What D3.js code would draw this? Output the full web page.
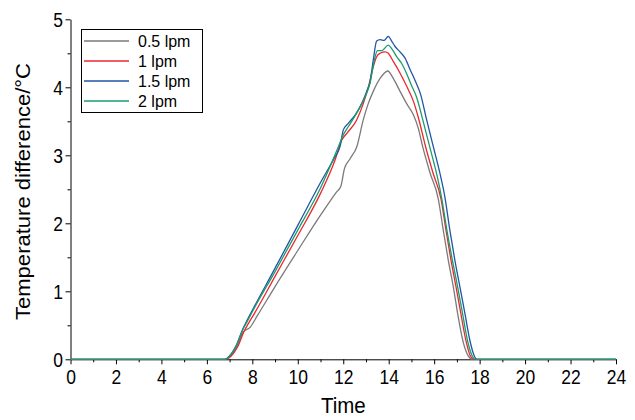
<!DOCTYPE html>
<html>
<head>
<meta charset="utf-8">
<script src="https://cdn.jsdelivr.net/npm/d3@7"></script>
<style>
  html, body { margin: 0; padding: 0; background: #fff; }
  svg { display: block; font-family: "Liberation Sans", Arial, sans-serif; }
</style>
</head>
<body>
<svg id="chart" width="635" height="420"></svg>
<script>
// Flow-rate series: time (h) and temperature difference (°C)
const seriesNames = ["0.5 lpm", "1 lpm", "1.5 lpm", "2 lpm"];
const seriesColors = ["#7a7a7a", "#e8282e", "#2155a6", "#1b9c6c"];

const timeGrey = [0, 6.8, 7.0, 7.3, 7.6, 7.9, 8.2, 9, 10, 11, 11.7, 11.9, 12.05, 12.3, 12.6, 12.88, 13.1, 13.32, 13.62, 13.96, 14.2, 14.5, 14.79, 15.08, 15.3, 15.5, 15.82, 16.18, 16.4, 16.62, 16.84, 17.06, 17.28, 17.5, 17.68, 24];
const valGrey  = [0, 0, 0.04, 0.18, 0.4, 0.47, 0.63, 1.07, 1.6, 2.12, 2.46, 2.55, 2.8, 2.95, 3.13, 3.52, 3.76, 3.94, 4.13, 4.24, 4.13, 3.94, 3.76, 3.6, 3.4, 3.12, 2.74, 2.36, 1.9, 1.46, 1.07, 0.62, 0.25, 0.05, 0, 0];

const timeRed = [0, 6.85, 7.05, 7.35, 7.65, 7.85, 8.1, 9, 10, 11, 11.64, 11.93, 12.15, 12.59, 12.88, 13.1, 13.32, 13.47, 13.62, 13.84, 13.98, 14.2, 14.43, 14.65, 14.87, 15.08, 15.3, 15.62, 15.95, 16.3, 16.52, 16.74, 16.96, 17.18, 17.4, 17.58, 17.75, 24];
const valRed  = [0, 0, 0.04, 0.18, 0.42, 0.54, 0.68, 1.22, 1.82, 2.44, 2.93, 3.22, 3.32, 3.52, 3.76, 4.0, 4.3, 4.45, 4.5, 4.52, 4.5, 4.38, 4.25, 4.11, 3.96, 3.8, 3.56, 3.13, 2.74, 2.36, 1.9, 1.46, 1.07, 0.66, 0.27, 0.06, 0, 0];

const timeBlue = [0, 6.8, 7.0, 7.3, 7.6, 7.78, 8.0, 9, 10, 11, 11.64, 11.86, 12.0, 12.22, 12.52, 12.81, 13.03, 13.18, 13.32, 13.47, 13.62, 13.8, 13.98, 14.13, 14.28, 14.5, 14.72, 14.93, 15.16, 15.4, 15.67, 15.96, 16.25, 16.47, 16.69, 16.91, 17.13, 17.35, 17.57, 17.72, 17.87, 24];
const valBlue  = [0, 0, 0.05, 0.21, 0.46, 0.58, 0.72, 1.34, 1.97, 2.6, 2.98, 3.13, 3.37, 3.47, 3.59, 3.76, 3.94, 4.08, 4.4, 4.68, 4.7, 4.69, 4.75, 4.68, 4.6, 4.52, 4.43, 4.27, 4.1, 3.9, 3.52, 3.13, 2.74, 2.39, 1.9, 1.46, 1.07, 0.68, 0.28, 0.09, 0, 0];

const timeGreen = [0, 6.8, 7.0, 7.3, 7.6, 7.8, 8.0, 9, 10, 11, 11.79, 12.0, 12.22, 12.59, 12.96, 13.18, 13.37, 13.5, 13.7, 13.98, 14.13, 14.35, 14.57, 14.79, 15.0, 15.22, 15.5, 15.8, 16.1, 16.32, 16.56, 16.8, 17.03, 17.25, 17.47, 17.66, 17.8, 24];
const valGreen  = [0, 0, 0.05, 0.2, 0.45, 0.57, 0.7, 1.29, 1.9, 2.52, 3.13, 3.3, 3.42, 3.62, 3.86, 4.06, 4.4, 4.54, 4.54, 4.62, 4.57, 4.45, 4.35, 4.2, 4.03, 3.86, 3.52, 3.13, 2.74, 2.39, 1.9, 1.46, 1.07, 0.67, 0.27, 0.06, 0, 0];

const xTicks = d3.range(0, 25, 2);
const yTicks = [0, 1, 2, 3, 4, 5];

const seriesTimes = [timeGrey, timeRed, timeBlue, timeGreen];
const seriesVals = [valGrey, valRed, valBlue, valGreen];

const svg = d3.select("#chart");
const plotLeft = 70.5, plotRight = 616, plotTop = 19.3, plotBottom = 359.3;

const x = d3.scaleLinear().domain([0, 24]).range([plotLeft, plotRight]);
const y = d3.scaleLinear().domain([0, 5]).range([plotBottom, plotTop]);

// Minor ticks
const minorX = d3.range(1, 24, 2);
const minorY = d3.range(0.5, 5, 1);

svg.append("g")
  .attr("transform", `translate(0,${plotBottom})`)
  .call(d3.axisBottom(x).tickValues(minorX).tickSize(3).tickFormat(""))
  .call(g => g.select(".domain").remove());
svg.append("g")
  .attr("transform", `translate(${plotLeft},0)`)
  .call(d3.axisLeft(y).tickValues(minorY).tickSize(3).tickFormat(""))
  .call(g => g.select(".domain").remove());

const tickFont = 17.5;
const tickStretch = 1.12;

const xAxis = svg.append("g")
  .attr("transform", `translate(0,${plotBottom})`)
  .call(d3.axisBottom(x).tickValues(xTicks).tickSize(5).tickSizeOuter(0).tickFormat(d3.format("d")));
xAxis.selectAll(".tick text")
  .attr("y", null).attr("dy", null)
  .attr("transform", `translate(0,24.5) scale(1,${tickStretch})`)
  .attr("font-size", tickFont).attr("fill", "#000")
  .attr("font-family", "Liberation Sans, Arial, sans-serif");

const yAxis = svg.append("g")
  .attr("transform", `translate(${plotLeft},0)`)
  .call(d3.axisLeft(y).tickValues(yTicks).tickSize(5).tickSizeOuter(0).tickFormat(d3.format("d")));
yAxis.selectAll(".tick text")
  .attr("x", null).attr("dy", null)
  .attr("transform", `translate(-7.5,7) scale(1,${tickStretch})`)
  .attr("font-size", tickFont).attr("fill", "#000")
  .attr("font-family", "Liberation Sans, Arial, sans-serif");

svg.selectAll(".domain, .tick line").attr("stroke", "#000");

// Lines
const line = d3.line().x(d => x(d[0])).y(d => y(d[1])).curve(d3.curveMonotoneX);
seriesNames.forEach((name, i) => {
  const pts = seriesTimes[i].map((t, j) => [t, seriesVals[i][j]]);
  svg.append("path")
    .datum(pts)
    .attr("fill", "none")
    .attr("stroke", seriesColors[i])
    .attr("stroke-width", 1.3)
    .attr("d", line);
});

// Axis titles
svg.append("text")
  .attr("transform", `translate(${(plotLeft + plotRight) / 2},412.5) scale(1,1.05)`)
  .attr("text-anchor", "middle")
  .attr("font-size", 20.5)
  .text("Time");

svg.append("text")
  .attr("transform", `translate(30,${(63 + 320) / 2}) rotate(-90)`)
  .attr("text-anchor", "middle")
  .attr("font-size", 20.5)
  .attr("textLength", 257)
  .attr("lengthAdjust", "spacingAndGlyphs")
  .text("Temperature difference/°C");

// Legend
const lg = svg.append("g");
lg.append("rect")
  .attr("x", 81.5).attr("y", 29.5).attr("width", 121).attr("height", 83)
  .attr("fill", "#fff").attr("stroke", "#000").attr("stroke-width", 1);
seriesNames.forEach((name, i) => {
  const yy = 41 + i * 20;
  lg.append("line")
    .attr("x1", 84).attr("x2", 129).attr("y1", yy).attr("y2", yy)
    .attr("stroke", seriesColors[i]).attr("stroke-width", 1.3);
  lg.append("text")
    .attr("transform", `translate(138,${yy + 6}) scale(1,1.05)`)
    .attr("font-size", 16)
    .text(name);
});
</script>
</body>
</html>
